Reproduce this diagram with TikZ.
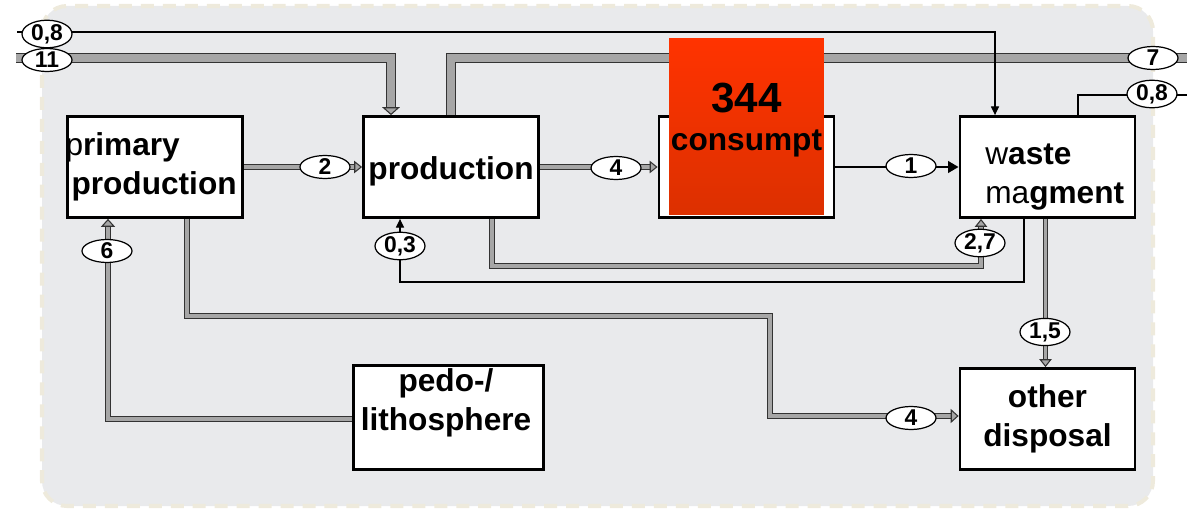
\documentclass[tikz,border=0pt]{standalone}
\usepackage{fontspec}
\setmainfont{Liberation Sans}
\usetikzlibrary{arrows.meta,shapes.geometric}
\definecolor{bgfill}{HTML}{E9EAEC}
\definecolor{bgdash}{HTML}{EEEADC}
\definecolor{flowgray}{HTML}{A6A6A6}
\definecolor{redtop}{HTML}{FF3300}
\definecolor{redbot}{HTML}{DC3000}

\begin{document}
\begin{tikzpicture}[x=0.02cm,y=-0.02cm,line join=miter,
  box/.style={draw,line width=1.6pt,fill=white,minimum width=3.5cm,minimum height=2.02cm,inner sep=1pt,font=\fontsize{18}{22}\selectfont\bfseries},
  boxtext/.style={inner sep=0pt,font=\fontsize{18}{22}\selectfont\bfseries},
  val/.style={ellipse,draw,line width=0.7pt,fill=white,minimum width=1cm,minimum height=0.46cm,inner sep=0pt,font=\fontsize{13}{13}\selectfont\bfseries},
  wire/.style={line width=0.7pt,-{Triangle[length=5pt,width=4.6pt]}},
  gflow/.style={draw=black!80,line width=0.6pt,double=flowgray,double distance=#1},
  gflow/.default=1.8pt,
  gtip/.style={-{Triangle[length=4.5pt,width=#1,fill=flowgray]}},
  gtip/.default=7pt]
\useasboundingbox (0,0) rectangle (1187,510);
\draw[bgdash,fill=bgfill,line width=2.3pt,dash pattern=on 7.4pt off 5.1pt,rounded corners=0.5cm] (42,6) rectangle (1153,506);

\node[box,align=left,text width=3.34cm] (prim) at (155,167) {\hspace*{-0.12cm}{\mdseries p}rimary\\production};
\node[box] (prod) at (451,167) {};
\node[box] (cons) at (746.5,167) {};
\node[box] (waste) at (1047.5,167) {};
\node[box,minimum width=3.8cm,minimum height=2.08cm] (litho) at (448.5,417.5) {};
\node[box,align=center] (disp) at (1047.5,419) {other\\disposal};
\node[boxtext] (prodtxt) at (451,171) {production};
\node[boxtext,align=left,anchor=west] (wastetxt) at (985,177) {{\mdseries w}aste\\{\mdseries ma}gment};
\node[boxtext,align=center] (lithotxt) at (446,403) {pedo-/\\lithosphere};

\coordinate (in08) at (17,32);
\coordinate (in11) at (16,58);
\coordinate (out7) at (1190,58);
\coordinate (out08) at (1196,95);

\draw[gflow=4pt,gtip=10pt] (in11) -- (391,58) -- (391,0 |- prod.north);
\draw[gflow=4pt] (451,0 |- prod.north) -- (451,58) -- (out7);
\draw[wire] (in08) -- (995,32) -- (995,0 |- waste.north);
\draw[wire] (1078,0 |- waste.north) -- (1078,95) -- (out08);
\draw[gflow,gtip] (prim.east) -- (prod.west);
\draw[gflow,gtip] (prod.east) -- (cons.west);
\draw[line width=1.5pt,-{Triangle[length=6pt,width=6.5pt]}] (cons.east) -- (waste.west);
\draw[gflow=2.4pt,gtip=8pt] (litho.west |- 0,419) -- (108,419) -- (108,0 |- prim.south);
\draw[gflow=2.6pt,gtip=8pt] (187,0 |- prim.south) -- (187,316) -- (770,316) -- (770,416) -- (disp.west |- 0,416);
\draw[gflow,gtip] (492,0 |- prod.south) -- (492,266) -- (981,266) -- (981,0 |- waste.south);
\draw[wire] (1024,0 |- waste.south) -- (1024,282) -- (400,282) -- (400,0 |- prod.south);
\draw[gflow=1.2pt,gtip] (1045.5,0 |- waste.south) -- (1045.5,0 |- disp.north);

\node[minimum width=3.1cm,minimum height=3.54cm,top color=redtop,bottom color=redbot,inner sep=0pt] (consfill) at (746.5,126.5) {};
\node[boxtext,align=center] (constxt) at (746.5,120) {{\fontsize{24}{24}\selectfont 344}\\consumpt};

\node[val] (v08a) at (47,34) {0,8};
\node[val] (v11) at (47,60) {11};
\node[val] (v7) at (1153,58) {7};
\node[val] (v08b) at (1152,94) {0,8};
\node[val] (v2) at (325,167) {2};
\node[val] (v4a) at (616,168) {4};
\node[val] (v1) at (911,166) {1};
\node[val] (v6) at (107,251) {6};
\node[val] (v03) at (400,246) {0,3};
\node[val] (v27) at (980,243) {2,7};
\node[val] (v15) at (1045,332) {1,5};
\node[val] (v4b) at (911,418) {4};
\end{tikzpicture}
\end{document}
